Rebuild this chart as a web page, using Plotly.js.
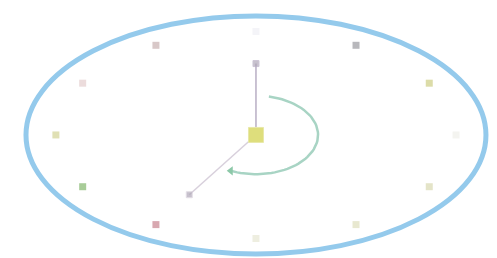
<!DOCTYPE html>
<html>
<head>
<meta charset="utf-8">
<script src="https://cdn.plot.ly/plotly-3.0.1.min.js"></script>
<style>html,body{margin:0;padding:0;background:#fff;}#chart{width:497px;height:258px;}</style>
</head>
<body>
<div id="chart"></div>
<script>
// Clock face data
const hours = [1, 2, 3, 4, 5, 6, 7, 8, 9, 10, 11, 12];
const hourColors = ['#b8b8bc', '#dcdca8', '#f4f4f0', '#e4e4c8', '#e8e8d0', '#eeeee0', '#d8a8b0', '#a8cc98', '#e0e0b4', '#ecdcdc', '#d8c8c8', '#f4f4f8'];
const markerRadius = [0.87, 0.87, 0.87, 0.87, 0.87, 0.87, 0.87, 0.87, 0.87, 0.87, 0.87, 0.87];
// Hands: angle in hours (clockwise from 12), length
const handAngles = [0, 7];
const handLengths = [0.6, 0.58];
const handColors = ['#b8aec4', '#d8d0dc'];
// Sweep arc (hours on the clock face)
const arcStartHour = 0.4;
const arcEndHour = 6.8;
const arcRadiusX = 0.27;
const arcRadiusY = 0.33;

function pos(h, rx, ry) {
  const a = h / 12 * 2 * Math.PI;
  return [rx * Math.sin(a), ry * Math.cos(a)];
}

const traces = [];
// hour markers
traces.push({
  type: 'scatter', mode: 'markers',
  x: hours.map((h, i) => pos(h, markerRadius[i], markerRadius[i])[0]),
  y: hours.map((h, i) => pos(h, markerRadius[i], markerRadius[i])[1]),
  marker: {size: 7, color: hourColors, symbol: 'square'},
  hoverinfo: 'none'
});
// hands
handAngles.forEach((h, i) => {
  const p = pos(h, handLengths[i], handLengths[i]);
  traces.push({
    type: 'scatter', mode: 'lines+markers',
    x: [0, p[0]], y: [0, p[1]],
    line: {color: handColors[i], width: 1.5},
    marker: {size: [0, 6], color: '#b0a8b8', symbol: 'square'},
    hoverinfo: 'none'
  });
});
// arc
const arcX = [], arcY = [];
const steps = 60;
for (let k = 0; k <= steps; k++) {
  const h = arcStartHour + (arcEndHour - arcStartHour) * k / steps;
  const p = pos(h, arcRadiusX, arcRadiusY);
  arcX.push(p[0]); arcY.push(p[1]);
}
traces.push({
  type: 'scatter', mode: 'lines',
  x: arcX, y: arcY,
  line: {color: '#a8d4c4', width: 2.5},
  hoverinfo: 'none'
});
const endP = pos(arcEndHour, arcRadiusX, arcRadiusY);
traces.push({
  type: 'scatter', mode: 'markers',
  x: [endP[0]], y: [endP[1]],
  marker: {size: 8, color: '#8cc8a8', symbol: 'triangle-left'},
  hoverinfo: 'none'
});
// center
traces.push({
  type: 'scatter', mode: 'markers',
  x: [0], y: [0],
  marker: {size: 15, color: '#dede7c', symbol: 'square', line: {color: '#e8e8a8', width: 1}},
  hoverinfo: 'none'
});

const layout = {
  width: 497, height: 258,
  margin: {l: 0, r: 0, t: 0, b: 0},
  paper_bgcolor: '#ffffff', plot_bgcolor: '#ffffff',
  showlegend: false,
  xaxis: {range: [-1.113, 1.048], visible: false, fixedrange: true},
  yaxis: {range: [-1.034, 1.134], visible: false, fixedrange: true},
  shapes: [{
    type: 'circle', xref: 'x', yref: 'y',
    x0: -1, x1: 1, y0: -1, y1: 1,
    line: {color: '#94caec', width: 5}
  }]
};
Plotly.newPlot('chart', traces, layout, {staticPlot: true, displayModeBar: false});
</script>
</body>
</html>
